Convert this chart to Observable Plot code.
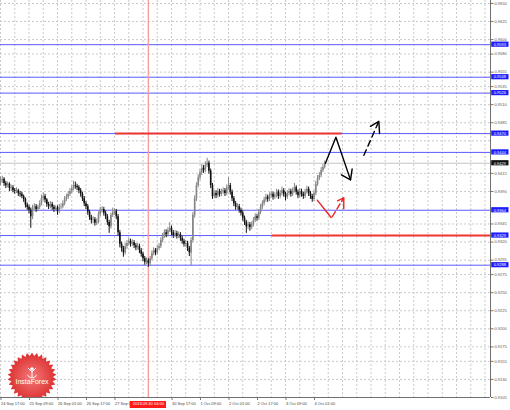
<!DOCTYPE html>
<html><head><meta charset="utf-8">
<script src="https://cdn.jsdelivr.net/npm/d3@7"></script>
<script src="https://cdn.jsdelivr.net/npm/@observablehq/plot@0.6"></script>
<style>
html,body{margin:0;padding:0;background:#fff;}
#wrap{position:relative;width:510px;height:410px;overflow:hidden;}
#logo{position:absolute;left:0;top:0;pointer-events:none;}
</style></head><body><div id="wrap"></div>
<script>
// Hourly bars, index 0 = 24 Sep 17:00
const firstOpen = 0.9401;
const closes = [
.9404,.9407,.9401,.9398,.9400,.9394,.9395,.9391,.9390,.9391,
.9387,.9386,.9383,.9379,.9371,.9368,.9364,.9355,.9368,.9369,
.9365,.9368,.9373,.9380,.9383,.9378,.9372,.9369,.9372,.9368,
.9365,.9367,.9362,.9368,.9369,.9373,.9379,.9382,.9386,.9390,
.9394,.9398,.9397,.9395,.9391,.9386,.9380,.9373,.9369,.9361,
.9354,.9350,.9351,.9346,.9348,.9358,.9364,.9365,.9360,.9355,
.9347,.9341,.9357,.9361,.9362,.9355,.9333,.9317,.9311,.9305,
.9314,.9318,.9321,.9317,.9319,.9315,.9312,.9314,.9308,.9303,
.9297,.9292,.9294,.9290,.9297,.9304,.9308,.9305,.9311,.9314,
.9322,.9328,.9333,.9330,.9336,.9339,.9333,.9329,.9332,.9328,
.9330,.9325,.9321,.9317,.9318,.9311,.9305,.9322,.9357,.9380,
.9398,.9409,.9416,.9422,.9419,.9426,.9429,.9418,.9398,.9383,
.9387,.9384,.9390,.9386,.9389,.9391,.9387,.9395,.9398,.9389,
.9380,.9373,.9368,.9369,.9364,.9360,.9353,.9347,.9341,.9344,
.9340,.9344,.9350,.9355,.9353,.9361,.9368,.9373,.9378,.9382,
.9379,.9384,.9386,.9382,.9384,.9389,.9383,.9387,.9391,.9386,
.9382,.9387,.9390,.9386,.9391,.9395,.9389,.9384,.9390,.9386,
.9383,.9389,.9393,.9387,.9383,.9379,.9387,.9400,.9408,.9412,
.9419,.9423,.9429];
const highs = [
.9410,.9411,.9409,.9404,.9403,.9402,.9399,.9398,.9394,.9395,
.9393,.9390,.9389,.9385,.9381,.9374,.9371,.9367,.9371,.9373,
.9372,.9371,.9377,.9385,.9388,.9386,.9380,.9375,.9376,.9375,
.9371,.9370,.9370,.9372,.9373,.9377,.9383,.9386,.9390,.9394,
.9398,.9404,.9403,.9400,.9398,.9394,.9389,.9383,.9376,.9372,
.9364,.9357,.9355,.9354,.9352,.9362,.9368,.9369,.9368,.9363,
.9358,.9350,.9360,.9367,.9366,.9365,.9358,.9336,.9320,.9314,
.9318,.9322,.9325,.9324,.9323,.9322,.9318,.9318,.9317,.9311,
.9306,.9300,.9298,.9297,.9300,.9308,.9312,.9311,.9315,.9318,
.9326,.9332,.9337,.9337,.9340,.9347,.9342,.9336,.9336,.9335,
.9334,.9333,.9328,.9324,.9322,.9321,.9314,.9326,.9361,.9384,
.9402,.9413,.9420,.9427,.9426,.9431,.9436,.9432,.9421,.9401,
.9391,.9391,.9394,.9393,.9393,.9395,.9394,.9399,.9409,.9401,
.9392,.9383,.9376,.9373,.9372,.9367,.9363,.9356,.9350,.9348,
.9347,.9348,.9354,.9359,.9358,.9365,.9372,.9377,.9382,.9386,
.9385,.9388,.9390,.9389,.9388,.9393,.9392,.9391,.9396,.9394,
.9389,.9391,.9394,.9393,.9395,.9401,.9398,.9392,.9394,.9393,
.9389,.9393,.9397,.9396,.9390,.9386,.9391,.9404,.9412,.9416,
.9423,.9427,.9432];
const lows = [
.9398,.9401,.9397,.9394,.9395,.9390,.9390,.9388,.9386,.9387,
.9383,.9382,.9380,.9375,.9367,.9364,.9359,.9339,.9351,.9364,
.9361,.9362,.9365,.9370,.9377,.9374,.9368,.9365,.9366,.9364,
.9361,.9362,.9357,.9359,.9365,.9366,.9370,.9376,.9379,.9383,
.9387,.9391,.9393,.9391,.9387,.9382,.9376,.9369,.9365,.9357,
.9350,.9345,.9346,.9342,.9343,.9345,.9355,.9360,.9356,.9351,
.9343,.9332,.9338,.9354,.9357,.9351,.9328,.9312,.9306,.9299,
.9302,.9310,.9315,.9313,.9314,.9311,.9308,.9309,.9304,.9299,
.9293,.9288,.9289,.9285,.9287,.9294,.9301,.9301,.9302,.9308,
.9311,.9319,.9325,.9326,.9327,.9333,.9329,.9325,.9326,.9324,
.9325,.9321,.9317,.9313,.9313,.9307,.9300,.9287,.9319,.9353,
.9376,.9395,.9405,.9412,.9415,.9416,.9423,.9414,.9394,.9379,
.9380,.9380,.9381,.9382,.9383,.9386,.9383,.9384,.9392,.9385,
.9376,.9369,.9364,.9364,.9360,.9356,.9349,.9343,.9332,.9337,
.9335,.9337,.9341,.9347,.9349,.9350,.9358,.9365,.9370,.9375,
.9375,.9376,.9381,.9378,.9379,.9381,.9379,.9380,.9384,.9382,
.9377,.9379,.9384,.9382,.9383,.9388,.9385,.9380,.9381,.9382,
.9379,.9380,.9386,.9383,.9379,.9375,.9376,.9384,.9397,.9405,
.9409,.9416,.9421];

const yTicks = [0.9650,0.9625,0.9600,0.9580,0.9555,0.9535,0.9510,0.9485,0.9415,0.9390,0.9345,0.9320,0.9295,0.9275,0.9250,0.9225,0.9200,0.9175,0.9155,0.9130,0.9105];
const yGridExtra = [0.9460];
const blueLevels = [0.9593,0.9548,0.9526,0.9470,0.9444,0.9364,0.9329,0.9288];
const timeLabelBars = [0,16,32,48,64,96,112,128,144,160,176];
const timeLabels = ["24 Sep 17:00","25 Sep 09:00","26 Sep 01:00","26 Sep 17:00","27 Sep 09:00","30 Sep 17:00","1 Oct 09:00","2 Oct 01:00","2 Oct 17:00","3 Oct 09:00","4 Oct 01:00"];
const gridStepBars = 8;
const crossBar = 83, crossLabel = "2013.09.30 04:00";
const redLines = [{price:0.9470, from:64.6, to:191.8},{price:0.9329, from:152.5, to:275.1}];
const blackSolid = [{x:182.4,y:0.9429},{x:188.3,y:0.9465},{x:196.5,y:0.9406}];
const blackSolidHead = [{x:191.4,y:0.9413},{x:196.5,y:0.9406},{x:197.4,y:0.9421}];
const blackDashed = [{x:204.0,y:0.9440},{x:212.4,y:0.9487}];
const blackDashedHead = [{x:207.7,y:0.9480},{x:212.4,y:0.9487},{x:212.8,y:0.9470}];
const redSolid = [{x:177.8,y:0.9378},{x:185.6,y:0.9354}];
const redDashed = [{x:186.2,y:0.9355},{x:192.7,y:0.9381}];
const redDashedHead = [{x:189.2,y:0.9377},{x:192.7,y:0.9381},{x:192.7,y:0.9366}];

const pxPerBar = 1.7813;
const W = 510, H = 410, mR = 20, mB = 13;
const xMax = (W - mR) / pxPerBar;
const yMin = 0.9105, yMax = 0.96541;
const pricePerPx = (yMax - yMin) / (H - mB);

const bars = closes.map((c, i) => ({i, open: i ? closes[i-1] : firstOpen, close: c, high: highs[i], low: lows[i]}));
const lastClose = closes[closes.length - 1];
const col = d => d.close >= d.open ? "#858585" : "#111";
const fmt = d3.format(".4f");
const gridBars = d3.range(0, xMax, gridStepBars);
const boxHalf = 2.6 * pricePerPx;
const boxX1 = xMax + 1.2 / pxPerBar, boxX2 = xMax + 18.5 / pxPerBar;

const chart = Plot.plot({
  width: W, height: H,
  marginLeft: 0, marginTop: 0, marginRight: mR, marginBottom: mB,
  style: {fontFamily: "'Liberation Sans', Arial, sans-serif", background: "#fff"},
  x: {type: "linear", domain: [0, xMax]},
  y: {type: "linear", domain: [yMin, yMax]},
  marks: [
    Plot.ruleX(gridBars, {stroke: "#cacaca", strokeDasharray: "2,2"}),
    Plot.ruleY(yTicks.concat(yGridExtra), {stroke: "#cacaca", strokeDasharray: "2,2"}),
    Plot.ruleY([lastClose], {stroke: "#c4c4c4"}),
    Plot.ruleY(blueLevels, {stroke: "#5a5aff"}),
    Plot.ruleX([crossBar], {stroke: "#f4a0a0", strokeWidth: 1.4}),
    Plot.ruleY(redLines, {y: "price", x1: "from", x2: "to", stroke: "#f03535", strokeWidth: 2}),
    Plot.ruleX(bars, {x: "i", y1: "low", y2: "high", stroke: col, strokeWidth: 1}),
    Plot.ruleX(bars, {x: "i", y1: "open", y2: "close", stroke: col, strokeWidth: 1.6}),
    Plot.line(blackSolid, {x: "x", y: "y", stroke: "#000", strokeWidth: 1.4}),
    Plot.line(blackSolidHead, {x: "x", y: "y", stroke: "#000", strokeWidth: 1.4}),
    Plot.line(blackDashed, {x: "x", y: "y", stroke: "#000", strokeWidth: 1.4, strokeDasharray: "6,4"}),
    Plot.line(blackDashedHead, {x: "x", y: "y", stroke: "#000", strokeWidth: 1.4}),
    Plot.line(redSolid, {x: "x", y: "y", stroke: "#f02020", strokeWidth: 1.4}),
    Plot.line(redDashed, {x: "x", y: "y", stroke: "#f02020", strokeWidth: 1.4, strokeDasharray: "6,3"}),
    Plot.line(redDashedHead, {x: "x", y: "y", stroke: "#f02020", strokeWidth: 1.4}),
    Plot.ruleX([xMax], {stroke: "#707070"}),
    Plot.ruleY([yMin], {stroke: "#707070"}),
    Plot.axisY(yTicks, {anchor: "right", tickSize: 2.5, tickPadding: 1.5, fontSize: 4, tickFormat: fmt, fill: "#555", stroke: "#777", label: null}),
    Plot.axisX(timeLabelBars, {anchor: "bottom", tickSize: 3, tickPadding: 1.5, fontSize: 4, textAnchor: "start", dx: 0.5, fill: "#444", stroke: "#777", label: null,
      tickFormat: d => timeLabels[timeLabelBars.indexOf(d)]}),
    Plot.rect(blueLevels, {x1: boxX1, x2: boxX2, y1: d => d - boxHalf, y2: d => d + boxHalf, fill: "#1c1cff"}),
    Plot.text(blueLevels, {y: d => d, frameAnchor: "right", dx: 3.2, textAnchor: "start", text: fmt, fill: "#fff", fontSize: 4}),
    Plot.rect([lastClose], {x1: boxX1, x2: boxX2, y1: d => d - boxHalf, y2: d => d + boxHalf, fill: "#111"}),
    Plot.text([lastClose], {y: d => d, frameAnchor: "right", dx: 3.2, textAnchor: "start", text: fmt, fill: "#fff", fontSize: 4}),
    Plot.rect([crossBar], {x1: d => d - 10.2, x2: d => d + 10.2, y1: yMin - 4 * pricePerPx, y2: yMin - 11 * pricePerPx, fill: "#ff1a1a"}),
    Plot.text([crossBar], {x: d => d, frameAnchor: "bottom", dy: 7.6, text: () => crossLabel, fill: "#fff", fontSize: 4})
  ]
});
const wrap = document.getElementById("wrap");
wrap.appendChild(chart);

// InstaForex logo (decoration), clipped to plot area
const cx = 32, cy = 377, rO = 24.5, rI = 21, n = 30;
const pts = d3.range(n * 2).map(k => {
  const a = Math.PI * k / n - Math.PI / 2;
  const r = k % 2 ? rI : rO;
  return [cx + r * Math.cos(a), cy + r * Math.sin(a)];
});
const logo = d3.select(wrap).append("svg").attr("id", "logo").attr("width", 80).attr("height", H - mB);
const grad = logo.append("defs").append("radialGradient").attr("id", "lg");
grad.append("stop").attr("offset", "0%").attr("stop-color", "#f47a7a");
grad.append("stop").attr("offset", "100%").attr("stop-color", "#dc2f2f");
logo.append("polygon").attr("points", pts.map(p => p.join(",")).join(" ")).attr("fill", "url(#lg)");
const ic = logo.append("g").attr("stroke", "#fff").attr("fill", "none").attr("stroke-width", 0.9);
ic.append("circle").attr("cx", cx).attr("cy", cy - 8).attr("r", 1.3).attr("fill", "#fff");
ic.append("path").attr("d", `M${cx-4},${cy-9} L${cx},${cy-5} L${cx+4},${cy-9} M${cx},${cy-5} L${cx},${cy}`);
ic.append("path").attr("d", `M${cx-4.5},${cy-2} A5,5 0 0 0 ${cx+4.5},${cy-2}`);
logo.append("text").attr("x", cx).attr("y", cy + 7).attr("text-anchor", "middle")
  .attr("font-family", "'Liberation Sans', Arial, sans-serif").attr("font-size", 7).attr("fill", "#fff").text("InstaForex");
</script>
</body></html>
